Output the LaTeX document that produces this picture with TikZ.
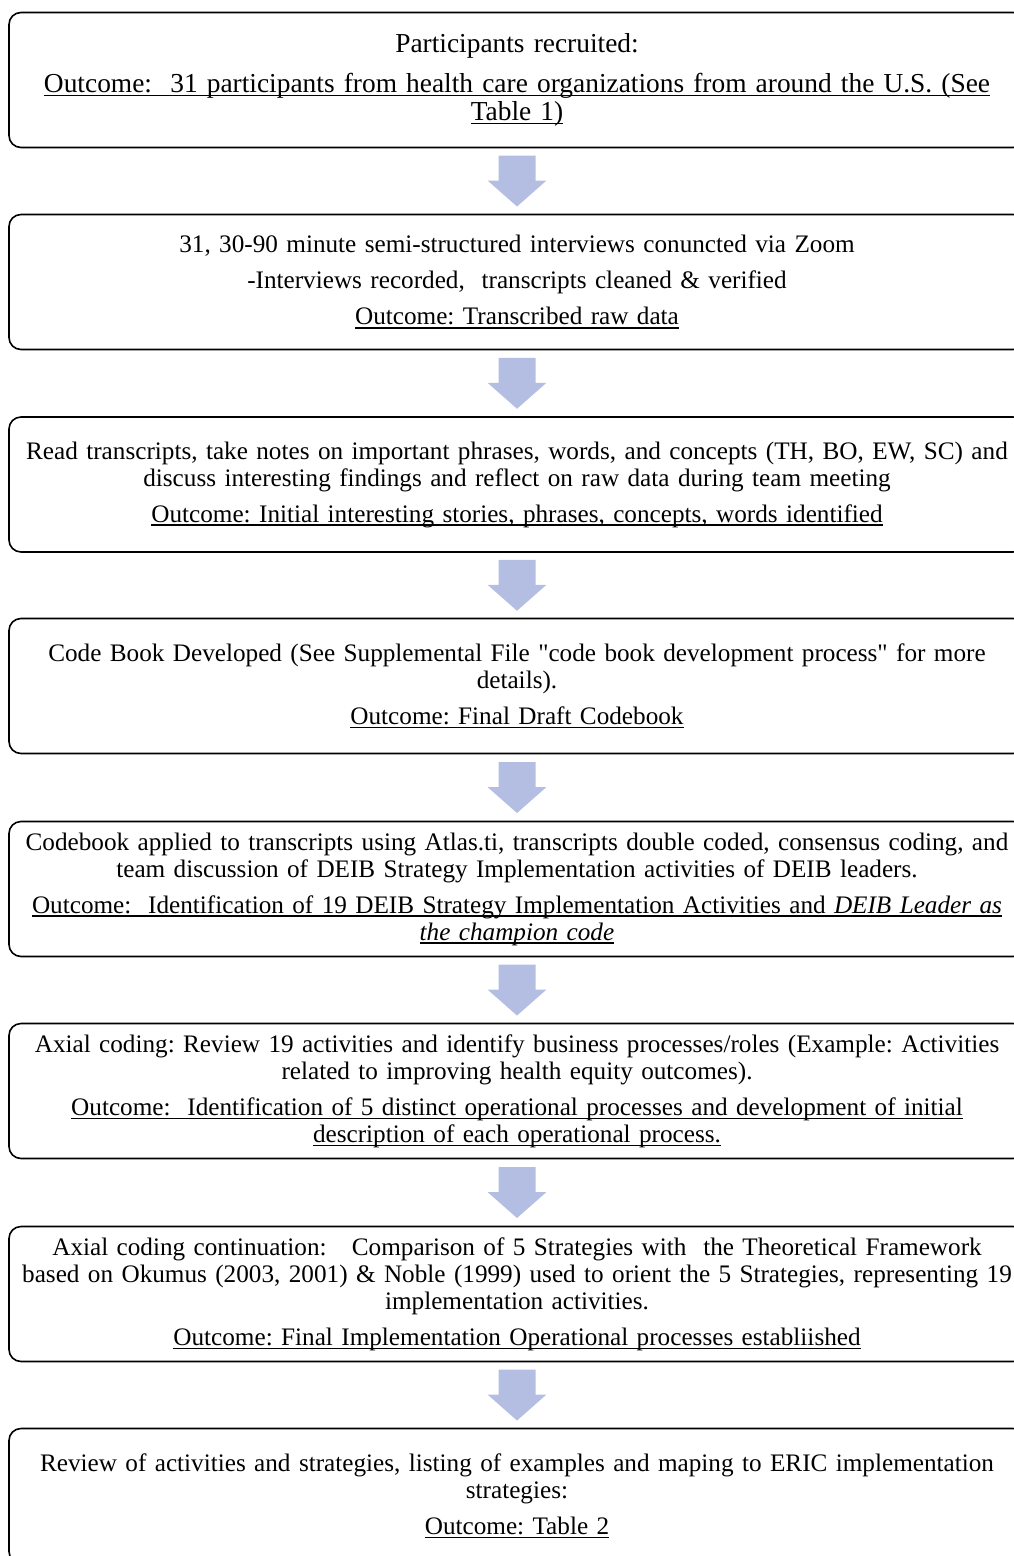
\documentclass[tikz,border=0pt]{standalone}
\usepackage{fontspec}
\setmainfont{Liberation Serif}
\usetikzlibrary{calc}
\definecolor{arrowblue}{RGB}{180,190,226}
\newcommand{\ulin}[1]{\leavevmode\setbox0\hbox{#1}\rlap{\rule[-3.8pt]{\wd0}{1.4pt}}\box0}
\tikzset{
  stepbox/.style={draw=black, line width=1.6pt, rounded corners=12pt, minimum width=1016pt,
    minimum height=135pt, text width=1010pt, align=center, inner sep=0pt,
    font=\fontsize{25.2}{27}\selectfont\frenchspacing},
  flowarrow/.style={fill=arrowblue, draw=none}
}
\begin{document}
\begin{tikzpicture}[x=1pt,y=-1pt]
		\useasboundingbox (0,0) rectangle (1014,1556);
		\node[stepbox, font=\fontsize{27.4}{28}\selectfont\frenchspacing] (s1) at (517,80) {Participants recruited:\\[12pt]
			\ulin{Outcome:\ \ 31 participants from health care organizations from around the U.S. (See}\\
			\ulin{Table 1)}};
		\node[stepbox] (s2) at (517,282) {31, 30-90 minute semi-structured interviews conuncted via Zoom\\[9pt]
			-Interviews recorded,\ \ transcripts cleaned \& verified\\[9pt]
			\ulin{Outcome: Transcribed raw data}};
		\node[stepbox] (s3) at (517,484.5) {Read transcripts, take notes on important phrases, words, and concepts (TH, BO, EW, SC) and\\
			discuss interesting findings and reflect on raw data during team meeting\\[9pt]
			\ulin{Outcome: Initial interesting stories, phrases, concepts, words identified}};
		\node[stepbox] (s4) at (517,686) {Code Book Developed (See Supplemental File \textquotedbl code book development process\textquotedbl{} for more\\
			details).\\[9pt]
			\ulin{Outcome: Final Draft Codebook}};
		\node[stepbox] (s5) at (517,889) {Codebook applied to transcripts using Atlas.ti, transcripts double coded, consensus coding, and\\
			team discussion of DEIB Strategy Implementation activities of DEIB leaders.\\[9pt]
			\ulin{Outcome:\ \ Identification of 19 DEIB Strategy Implementation Activities and \textit{DEIB Leader as}}\\
			\ulin{\textit{the champion code}}};
		\node[stepbox] (s6) at (517,1091) {Axial coding: Review 19 activities and identify business processes/roles (Example: Activities\\
			related to improving health equity outcomes).\\[9pt]
			\ulin{Outcome:\ \ Identification of 5 distinct operational processes and development of initial}\\
			\ulin{description of each operational process.}};
		\node[stepbox] (s7) at (517,1294) {Axial coding continuation:\ \ \ Comparison of 5 Strategies with\ \ the Theoretical Framework\\
			based on Okumus (2003, 2001) \& Noble (1999) used to orient the 5 Strategies, representing 19\\
			implementation activities.\\[9pt]
			\ulin{Outcome: Final Implementation Operational processes establiished}};
		\node[stepbox] (s8) at (517,1496) {Review of activities and strategies, listing of examples and maping to ERIC implementation\\
			strategies:\\[9pt]
			\ulin{Outcome: Table 2}};

		% block arrows between the steps
		\foreach \a/\b in {s1/s2,s2/s3,s3/s4,s4/s5,s5/s6,s6/s7,s7/s8}{
			\coordinate (m) at ($(\a.south)!0.5!(\b.north)$);
			\fill[flowarrow] ($(m)+(-18.5,-25.5)$) -- ($(m)+(18.5,-25.5)$) -- ($(m)+(18.5,-0.5)$)
				-- ($(m)+(29.5,-0.5)$) -- ($(m)+(0,25.5)$) -- ($(m)+(-29.5,-0.5)$)
				-- ($(m)+(-18.5,-0.5)$) -- cycle;
		}
	\end{tikzpicture}
\end{document}
